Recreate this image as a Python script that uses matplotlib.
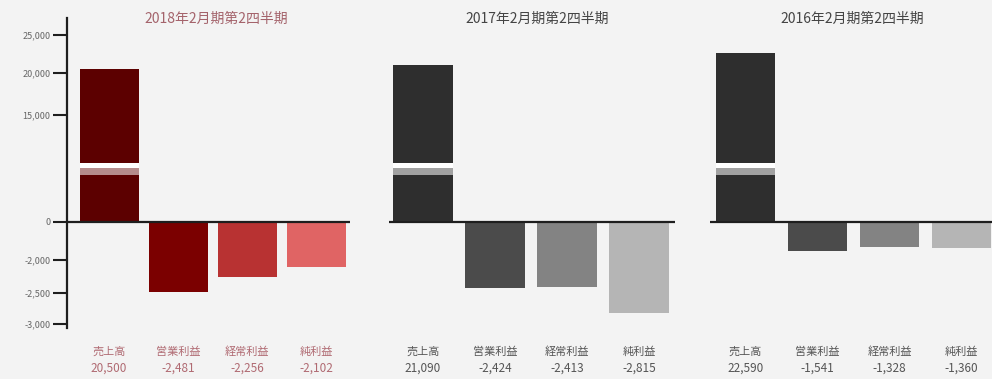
import numpy as np
import matplotlib.pyplot as plt
from matplotlib import transforms
from matplotlib.colors import to_rgb

plt.rcParams['font.family'] = ['Noto Sans CJK JP', 'DejaVu Sans']

#%% data (百万円)
categories = ['売上高', '営業利益', '経常利益', '純利益']
periods = ['2018年2月期第2四半期', '2017年2月期第2四半期', '2016年2月期第2四半期']
values_2018 = [20500, -2481, -2256, -2102]
values_2017 = [21090, -2424, -2413, -2815]
values_2016 = [22590, -1541, -1328, -1360]
value_labels_2018 = ['20,500', '-2,481', '-2,256', '-2,102']
value_labels_2017 = ['21,090', '-2,424', '-2,413', '-2,815']
value_labels_2016 = ['22,590', '-1,541', '-1,328', '-1,360']
yticks = [25000, 20000, 15000, 0, -2000, -2500, -3000]
ytick_labels = ['25,000', '20,000', '15,000', '0', '-2,000', '-2,500', '-3,000']

#%% broken y axis: piecewise linear value -> height
scale_vals = [-10000, -3000, -2500, -2000, 0, 15000, 20000, 25000, 60000]
scale_pos = [-758, -324, -293, -260, -222, -115, -73, -35, 231]

def fwd(v):
    return np.interp(v, scale_vals, scale_pos)

def inv(p):
    return np.interp(p, scale_pos, scale_vals)

# where the sales bar gets its white "cut"
cut_lo, cut_mid, cut_hi = 6600, 7500, 8300

W, H = 992, 379
fig = plt.figure(figsize=(W / 100, H / 100), dpi=100)
fig.patch.set_facecolor('#f3f3f3')

red_bars = ['#5c0000', '#7b0000', '#b83232', '#e06464']
gray_bars = ['#2e2e2e', '#4b4b4b', '#838383', '#b5b5b5']

# left, right, first bar center, bar step, bar width (px)
panels = [
    dict(vals=values_2018, labs=value_labels_2018, colors=red_bars,
         box=(67, 350, 109, 69, 59), title_x=216, tc='#a4636b', lc='#b06a72'),
    dict(vals=values_2017, labs=value_labels_2017, colors=gray_bars,
         box=(389, 675, 423, 72, 60), title_x=537, tc='#444444', lc='#555555'),
    dict(vals=values_2016, labs=value_labels_2016, colors=gray_bars,
         box=(710, 992, 745.5, 72, 59), title_x=852, tc='#444444', lc='#555555'),
]

ax_top, ax_bot = 18, 328
x = np.arange(len(categories))

for i, p in enumerate(panels):
    left, right, c0, step, bw = p['box']
    ax = fig.add_axes([left / W, 1 - ax_bot / H, (right - left) / W, (ax_bot - ax_top) / H])
    ax.set_facecolor('none')
    ax.set_yscale('function', functions=(fwd, inv))
    ax.set_ylim(inv(-ax_bot), inv(-ax_top))
    ax.set_xlim((left - c0) / step, (right - c0) / step)

    width = bw / step
    ax.bar(x, p['vals'], width=width, color=p['colors'], zorder=2)

    # cut mark on the sales bar: pale strip with a white line on top
    light = tuple(0.45 * c + 0.55 for c in to_rgb(p['colors'][0]))
    ax.bar(x[0], cut_hi - cut_lo, bottom=cut_lo, width=width, color=light, zorder=3)
    ax.bar(x[0], cut_hi - cut_mid, bottom=cut_mid, width=width, color='white', zorder=3.5)

    ax.axhline(0, color='#1e1e1e', lw=1.6, zorder=4)

    for s in ['top', 'right', 'bottom']:
        ax.spines[s].set_visible(False)
    ax.set_xticks([])
    if i == 0:
        ax.spines['left'].set_linewidth(1.6)
        ax.spines['left'].set_color('#1e1e1e')
        ax.set_yticks(yticks)
        ax.set_yticklabels(ytick_labels, fontsize=6.5, color='#666666')
        ax.tick_params(axis='y', length=10, width=1.5, color='#1e1e1e', pad=2)
        ax.yaxis.set_minor_locator(plt.NullLocator())
    else:
        ax.spines['left'].set_visible(False)
        ax.set_yticks([])
        ax.yaxis.set_minor_locator(plt.NullLocator())

    fig.text(p['title_x'] / W, 1 - 19 / H, periods[i], fontsize=10,
             color=p['tc'], ha='center', va='center')

    trans = transforms.blended_transform_factory(ax.transData, fig.transFigure)
    for j in range(len(categories)):
        ax.text(x[j], 1 - 352 / H, categories[j], transform=trans, fontsize=8,
                color=p['lc'], ha='center', va='center')
        ax.text(x[j], 1 - 368 / H, p['labs'][j], transform=trans, fontsize=8.5,
                color=p['lc'], ha='center', va='center')

plt.savefig('out.png', dpi=100, facecolor=fig.get_facecolor())
